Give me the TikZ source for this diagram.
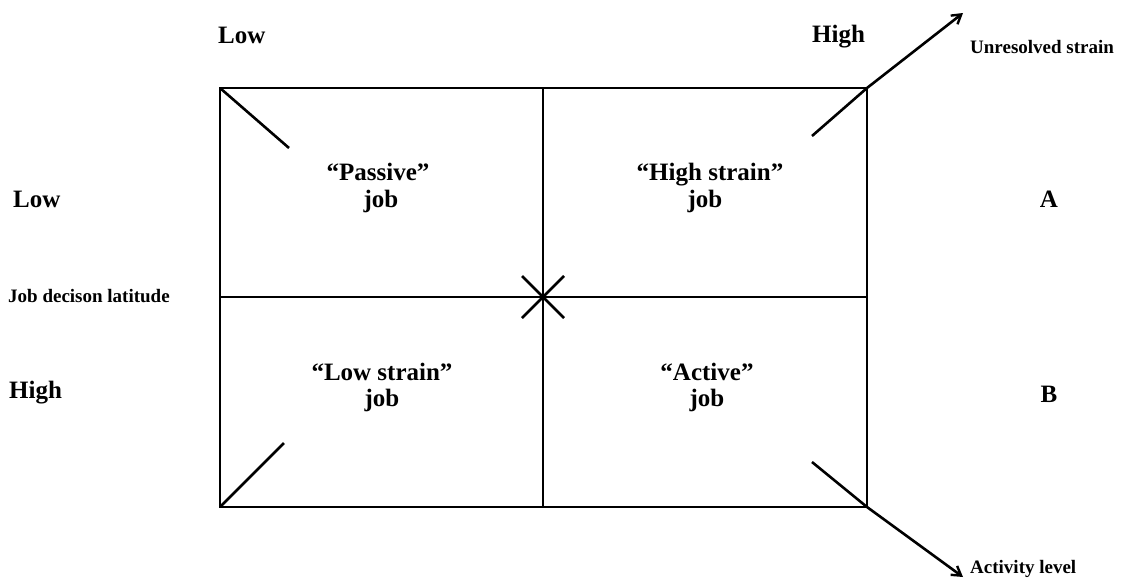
\documentclass[tikz,border=0pt]{standalone}
\usepackage{fontspec}
\setmainfont{Liberation Serif}
\usetikzlibrary{arrows.meta}
\begin{document}
\begin{tikzpicture}[x=1pt,y=-1pt,
  frame/.style={line width=2.6pt},
  big/.style={font=\fontsize{25}{27}\selectfont\bfseries, inner sep=0pt},
  small/.style={font=\fontsize{19}{22}\selectfont\bfseries, inner sep=0pt},
  arr/.style={line width=2.6pt, line join=round, -{Straight Barb[length=9pt,width=11pt,line width=2.4pt]}}]
\useasboundingbox (0,0) rectangle (1122,579);
% grid
\coordinate (tl) at (220,88);
\coordinate (tr) at (867,88);
\coordinate (bl) at (220,507);
\coordinate (br) at (867,507);
\coordinate (tm) at (543,88);
\coordinate (bm) at (543,507);
\coordinate (ml) at (220,297);
\coordinate (mr) at (867,297);
\draw[frame] (tl) rectangle (br);
\draw[frame] (tm) -- (bm);
\draw[frame] (ml) -- (mr);
% cross at centre
\coordinate (x1) at (522,276);
\coordinate (x2) at (564,318);
\coordinate (x3) at (564,276);
\coordinate (x4) at (522,318);
\draw[frame] (x1) -- (x2);
\draw[frame] (x3) -- (x4);
% corner diagonals
\coordinate (d1) at (289,148);
\coordinate (d2) at (284,443);
\coordinate (d3) at (812,136);
\coordinate (d4) at (812,462);
\coordinate (ut) at (963,13);
\coordinate (at) at (963,577);
\draw[frame] (tl) -- (d1);
\draw[frame] (bl) -- (d2);
\draw[arr] (d3) -- (tr) -- (ut);
\draw[arr] (d4) -- (br) -- (at);
% axis labels
\node[big, anchor=base west] (lowtop) at (218,43) {Low};
\node[big, anchor=base west] (hightop) at (812,42) {High};
\node[small, anchor=base west] (unres) at (970,53) {Unresolved strain};
\node[small, anchor=base west] (act) at (970,573) {Activity level};
\node[big, anchor=base west] (lowleft) at (13,207) {Low};
\node[small, anchor=base west] (jdl) at (8,302) {Job decison latitude};
\node[big, anchor=base west] (highleft) at (9,398) {High};
\node[big, anchor=base] (a) at (1049,207) {A};
\node[big, anchor=base] (b) at (1049,402) {B};
% cells
\node[big, anchor=base] (p1) at (378,180) {“Passive”};
\node[big, anchor=base] (p2) at (381,207) {job};
\node[big, anchor=base] (h1) at (710,180) {“High strain”};
\node[big, anchor=base] (h2) at (705,207) {job};
\node[big, anchor=base] (l1) at (382,380) {“Low strain”};
\node[big, anchor=base] (l2) at (382,406) {job};
\node[big, anchor=base] (v1) at (707,380) {“Active”};
\node[big, anchor=base] (v2) at (707,406) {job};
\end{tikzpicture}
\end{document}
